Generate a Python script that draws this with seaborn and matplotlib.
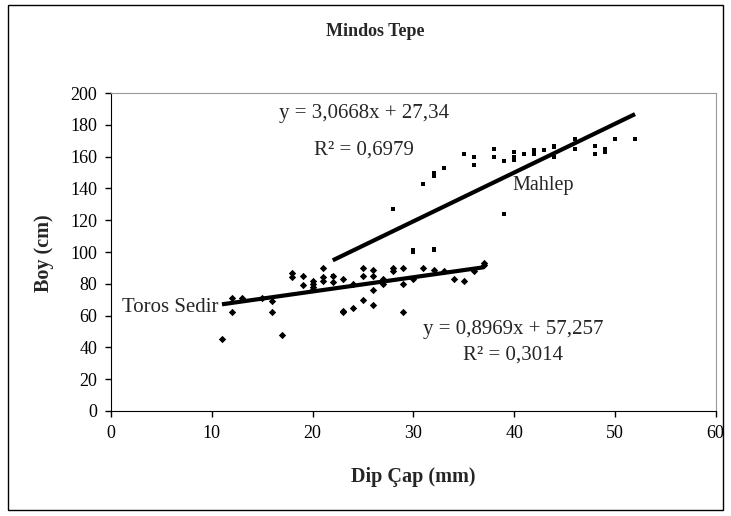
import numpy as np
import pandas as pd
import matplotlib
matplotlib.use("Agg")
import matplotlib.pyplot as plt
import seaborn as sns
from matplotlib.patches import Rectangle

sns.set_style("white")
plt.rcParams['font.family'] = ['Liberation Serif', 'DejaVu Serif']

# Toros Sediri: dip cap (mm), boy (cm)
toros_x = [11, 12, 12, 13, 15, 16, 16, 17, 18, 18, 19, 19, 20, 20, 20, 20,
           21, 21, 21, 22, 22, 23, 23, 23, 24, 24, 25, 25, 25, 26, 26, 26, 26,
           27, 27, 27, 28, 28, 29, 29, 29, 30, 31, 32, 33, 34, 35, 36, 37, 37]
toros_y = [45, 71, 62, 71, 71, 69, 62, 48, 87, 84, 85, 79, 82, 80, 78, 77,
           90, 84, 82, 85, 81, 83, 62, 63, 80, 65, 90, 85, 70, 89, 85, 76, 67,
           83, 80, 82, 90, 88, 90, 80, 62, 83, 90, 89, 88, 83, 82, 88, 93, 92]

# Mahlep
mahlep_x = [22, 28, 30, 30, 31, 32, 32, 32, 32, 33, 35, 36, 36, 38, 38, 39, 39,
            40, 40, 40, 41, 42, 42, 43, 44, 44, 44, 46, 46, 48, 48, 49, 49, 50, 52]
mahlep_y = [85, 127, 101, 100, 143, 150, 148, 102, 101, 153, 162, 160, 155, 165, 160, 157, 124,
            163, 160, 158, 162, 164, 162, 164, 167, 166, 160, 171, 165, 167, 162, 165, 163, 171, 171]

# trendline coefficients shown on the chart
toros_fit = [0.8969, 57.257]
mahlep_fit = [3.0668, 27.34]

df = pd.concat([
    pd.DataFrame({'x': toros_x, 'y': toros_y, 'tur': 'Toros Sedir'}),
    pd.DataFrame({'x': mahlep_x, 'y': mahlep_y, 'tur': 'Mahlep'}),
])

fig = plt.figure(figsize=(7.31, 5.16), dpi=100)
ax = fig.add_axes([0.152, 0.2035, 0.827, 0.616])

sns.scatterplot(data=df[df.tur == 'Toros Sedir'], x='x', y='y', marker='D',
                color='black', s=14, edgecolor='black', linewidth=0, ax=ax, legend=False)
sns.scatterplot(data=df[df.tur == 'Mahlep'], x='x', y='y', marker='s',
                color='black', s=6, edgecolor='black', linewidth=0, ax=ax, legend=False)

# trendlines over each series' range
for xs, (m, b) in [(toros_x, toros_fit), (mahlep_x, mahlep_fit)]:
    xl = np.array([min(xs), max(xs)])
    ax.plot(xl, m * xl + b, color='black', linewidth=3, solid_capstyle='butt')

ax.set_xlim(0, 60)
ax.set_ylim(0, 200)
ax.set_xticks(range(0, 61, 10))
ax.set_yticks(range(0, 201, 20))
ax.tick_params(axis='both', labelsize=13, direction='out', length=4, width=1,
               left=True, bottom=True, colors='black', pad=6)
ax.spines['left'].set_color('black')
ax.spines['bottom'].set_color('black')
ax.spines['top'].set_color('#999999')
ax.spines['right'].set_color('#999999')
ax.set_xlabel('')
ax.set_ylabel('')

ax.text(25.1, 187, 'y = 3,0668x + 27,34', ha='center', va='center', fontsize=15)
ax.text(25.1, 164, 'R² = 0,6979', ha='center', va='center', fontsize=15)
ax.text(42.9, 142, 'Mahlep', ha='center', va='center', fontsize=14.5)
ax.text(1.1, 65, 'Toros Sedir', ha='left', va='center', fontsize=15)
ax.text(39.9, 51, 'y = 0,8969x + 57,257', ha='center', va='center', fontsize=15)
ax.text(39.9, 35, 'R² = 0,3014', ha='center', va='center', fontsize=15)

fig.text(0.514, 0.938, 'Mindos Tepe', ha='center', va='center', fontsize=13, fontweight='bold')
fig.text(0.565, 0.076, 'Dip Çap (mm)', ha='center', va='center', fontsize=14.5, fontweight='bold')
fig.text(0.06, 0.51, 'Boy (cm)', ha='center', va='center', fontsize=14.5, fontweight='bold',
         rotation=90)

fig.patches.append(Rectangle((0.011, 0.012), 0.978, 0.978, transform=fig.transFigure,
                             fill=False, edgecolor='black', linewidth=1))

fig.savefig('out.png', dpi=100, facecolor='white')
